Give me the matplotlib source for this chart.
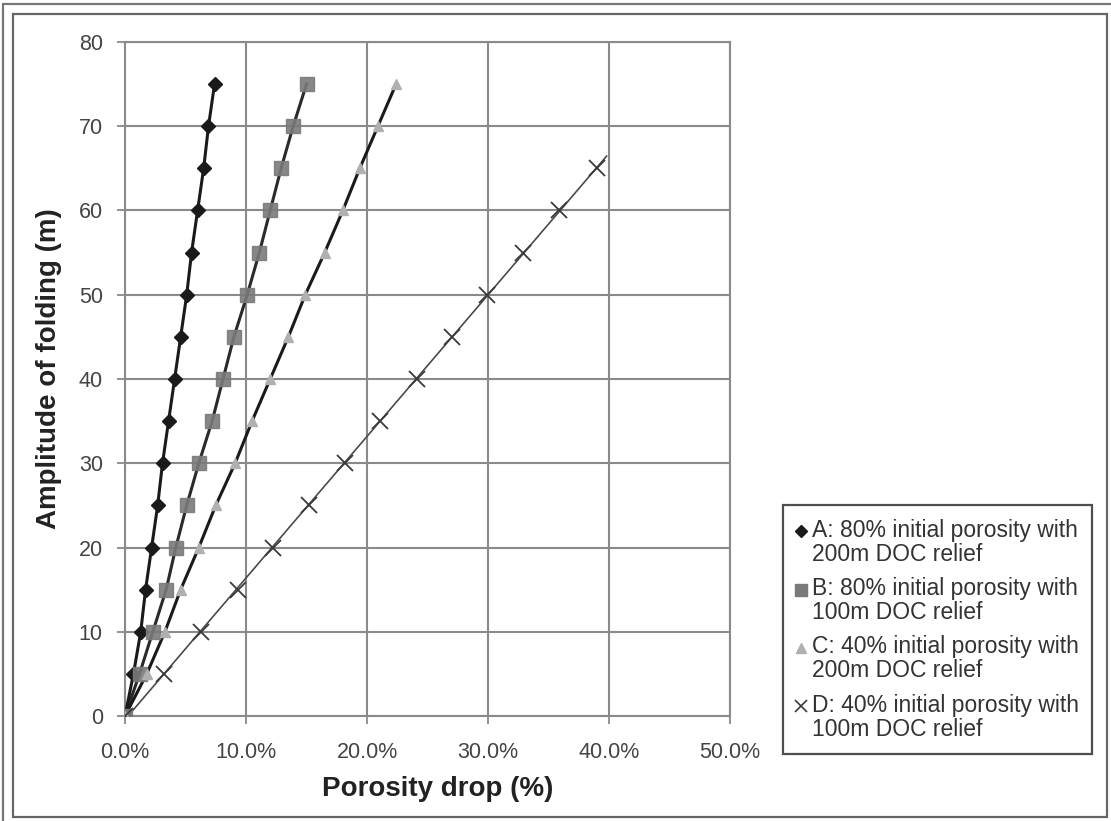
import numpy as np
import matplotlib
matplotlib.use("Agg")
import matplotlib.pyplot as plt
from matplotlib.lines import Line2D
from matplotlib.patches import Rectangle
from matplotlib.legend_handler import HandlerLine2D
from matplotlib.ticker import FuncFormatter, MultipleLocator

plt.rcParams['font.family'] = ['Liberation Sans', 'DejaVu Sans']

# Amplitude of folding (m) and porosity drop (%) per scenario
amplitude = [0, 5, 10, 15, 20, 25, 30, 35, 40, 45, 50, 55, 60, 65, 70, 75]
drop_a = [0.0, 0.7, 1.3, 1.7, 2.2, 2.7, 3.1, 3.6, 4.1, 4.6, 5.1, 5.5, 6.0, 6.5, 6.9, 7.4]
drop_b = [0.0, 1.2, 2.3, 3.4, 4.2, 5.1, 6.1, 7.2, 8.1, 9.0, 10.1, 11.1, 12.0, 12.9, 13.9, 15.0]
drop_c = [0.0, 1.8, 3.3, 4.6, 6.1, 7.5, 9.1, 10.5, 12.0, 13.5, 14.9, 16.5, 18.0, 19.4, 20.9, 22.4]
amplitude_d = [0, 5, 10, 15, 20, 25, 30, 35, 40, 45, 50, 55, 60, 65]
drop_d = [0.0, 3.2, 6.3, 9.3, 12.2, 15.2, 18.2, 21.1, 24.1, 27.0, 29.9, 32.9, 35.9, 39.0]
trend_d_end = 39.8  # linear trend for D drawn out to this porosity drop

labels = [
    "A: 80% initial porosity with\n200m DOC relief",
    "B: 80% initial porosity with\n100m DOC relief",
    "C: 40% initial porosity with\n200m DOC relief",
    "D: 40% initial porosity with\n100m DOC relief",
]


class FirstLineHandler(HandlerLine2D):
    """Legend marker raised to sit beside the first line of a two-line label."""
    shift = 8.5  # points

    def create_artists(self, legend, orig_handle, xdescent, ydescent, width, height,
                       fontsize, trans):
        arts = super().create_artists(legend, orig_handle, xdescent, ydescent, width,
                                      height, fontsize, trans)
        for a in arts:
            a.set_ydata(np.asarray(a.get_ydata(), dtype=float) + self.shift)
        return arts


W, H = 1111, 821
fig = plt.figure(figsize=(W / 100, H / 100), dpi=100)
fig.patch.set_facecolor('white')

# double frame around the chart
fig.add_artist(Rectangle((3 / W, 1 - 1000 / H), 1200 / W, 996 / H, transform=fig.transFigure,
                         fill=False, edgecolor='#777777', lw=1.6))
fig.add_artist(Rectangle((13 / W, 1 - 817 / H), 1094 / W, 803 / H, transform=fig.transFigure,
                         fill=False, edgecolor='#666666', lw=1.6))

x0, x1, y0, y1 = 125, 730, 716, 42
ax = fig.add_axes([x0 / W, 1 - y0 / H, (x1 - x0) / W, (y0 - y1) / H])

grid_col = '#8a8a8a'
ax.set_xlim(0, 50)
ax.set_ylim(0, 80)
ax.xaxis.set_major_locator(MultipleLocator(10))
ax.yaxis.set_major_locator(MultipleLocator(10))
ax.xaxis.set_major_formatter(FuncFormatter(lambda v, p: f"{v:.1f}%"))
ax.grid(True, color=grid_col, lw=1.5)
ax.set_axisbelow(True)
for s in ax.spines.values():
    s.set_color(grid_col)
    s.set_linewidth(1.5)
ax.tick_params(axis='both', direction='out', length=6, width=1.3, color=grid_col,
               labelsize=15.5, labelcolor='#444444')
ax.tick_params(axis='x', pad=13)
ax.tick_params(axis='y', pad=10)

# A
ax.plot(drop_a, amplitude, color='#1a1a1a', lw=2.2, marker='D', ms=7,
        mfc='#1a1a1a', mec='#1a1a1a', zorder=5)
# B
ax.plot(drop_b, amplitude, color='#2a2a2a', lw=2.2, zorder=4)
ax.plot(drop_b, amplitude, ls='none', marker='s', ms=10.5, mfc='#7a7a7a', mec='#7a7a7a',
        alpha=0.9, zorder=5)
# C
ax.plot(drop_c, amplitude, color='#1a1a1a', lw=2.2, zorder=4)
ax.plot(drop_c, amplitude, ls='none', marker='^', ms=7, mfc='#b0b0b0', mec='#b0b0b0', zorder=5)
# D markers and linear trend
ax.plot(drop_d, amplitude_d, ls='none', marker='x', ms=12, mew=1.3, color='#3a3a3a', zorder=5)
slope = np.polyfit(drop_d, amplitude_d, 1)
xs = np.array([0.0, trend_d_end])
ax.plot(xs, np.polyval(slope, xs), color='#4a4a4a', lw=1.2, zorder=4)

ax.set_xlabel("Porosity drop (%)", fontsize=20, fontweight='bold', color='#222222')
ax.set_ylabel("Amplitude of folding (m)", fontsize=20, fontweight='bold', color='#222222')
ax.xaxis.set_label_coords((438 - x0) / (x1 - x0), (y0 - 776) / (y0 - y1))
ax.yaxis.set_label_coords((62 - x0) / (x1 - x0), (y0 - 369) / (y0 - y1))

handles = [
    Line2D([], [], ls='none', marker='D', ms=6, color='#1a1a1a'),
    Line2D([], [], ls='none', marker='s', ms=8, color='#7a7a7a'),
    Line2D([], [], ls='none', marker='^', ms=7, color='#b0b0b0'),
    Line2D([], [], ls='none', marker='x', ms=9, mew=1.2, color='#3a3a3a'),
]
leg = fig.legend(handles, labels, loc='upper left', bbox_to_anchor=(783 / W, 1 - 505 / H),
                 bbox_transform=fig.transFigure, fontsize=16.5, frameon=True, fancybox=False,
                 edgecolor='#222222', handlelength=0.4, handletextpad=0.25, borderpad=0.6,
                 labelspacing=0.5, borderaxespad=0,
                 handler_map={Line2D: FirstLineHandler()})
leg.get_frame().set_linewidth(1.6)
for t in leg.get_texts():
    t.set_color('#333333')
    t.set_linespacing(1.05)

fig.savefig("out.png", dpi=100)
